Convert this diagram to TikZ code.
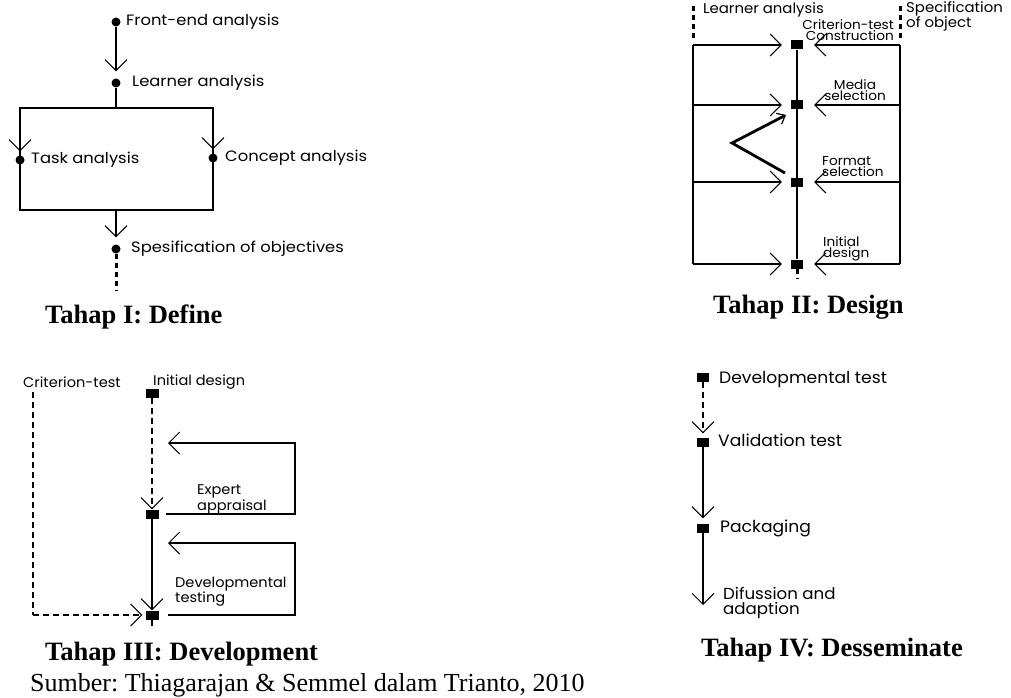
\documentclass[tikz,border=0pt]{standalone}
\usepackage{fontspec}
\setmainfont{Liberation Serif}
\newfontfamily\gothicA[FakeStretch=1.09]{Poppins}
\newfontfamily\gothicB[FakeStretch=1.05]{Poppins}
\newfontfamily\gothicC[FakeStretch=1.04]{Poppins}
\usetikzlibrary{arrows.meta}
\frenchspacing
\newcommand\fI{\gothicA\fontsize{15}{13}\selectfont}
\newcommand\fIIa{\gothicB\fontsize{14.2}{13}\selectfont}
\newcommand\fII{\gothicB\fontsize{13}{11}\selectfont}
\newcommand\fIII{\gothicC\fontsize{14}{13}\selectfont}
\newcommand\fIV{\gothicC\fontsize{16.5}{13.5}\selectfont}
\newcommand\fIVb{\gothicC\fontsize{16}{15.5}\selectfont}
\tikzset{
  main/.style={line width=2.8pt},
  dotline/.style={line width=3pt, dash pattern=on 5pt off 4pt},
  dashline/.style={line width=2.6pt, dash pattern=on 6pt off 4pt},
  vtip/.style={-{Straight Barb[length=11pt,width=22pt,line width=1pt]}},
  smalltip/.style={-{Straight Barb[length=7pt,width=12pt,line width=1.2pt]}},
  dotnode/.style={circle, fill, inner sep=0pt, minimum size=9pt},
  sqnode/.style={rectangle, fill, inner sep=0pt, minimum width=12pt, minimum height=9pt},
  lbl/.style={anchor=west, inner sep=0pt},
  ttl/.style={inner sep=0pt, font=\fontsize{26.5}{28}\selectfont\bfseries},
}
\begin{document}
\begin{tikzpicture}[x=1pt,y=-1pt]
\useasboundingbox[fill=white] (0,0) rectangle (1011,698);
% ---------------- Panel I ----------------
\node[dotnode] (fe) at (116,22) {};
\node[lbl,font=\fI] (fet) at (126,22) {Front-end analysis};
\node[dotnode] (la) at (116,83) {};
\node[lbl,font=\fI] (lat) at (132,83) {Learner analysis};
\coordinate (bt) at (116,108);
\coordinate (c1) at (20,108);
\coordinate (c2) at (213,108);
\coordinate (c3) at (213,210);
\coordinate (c4) at (20,210);
\node[dotnode] (ta) at (20,160) {};
\node[lbl,font=\fI] (tat) at (31,160) {Task analysis};
\node[dotnode] (ca) at (213,158) {};
\node[lbl,font=\fI] (cat) at (225,158) {Concept analysis};
\coordinate (bb) at (116,210);
\node[dotnode] (so) at (116,249) {};
\node[lbl,font=\fI] (sot) at (131,249) {Spesification of objectives};
\coordinate (se) at (116,290);
\draw[main,vtip,shorten >=7pt] (fe) -- (la);
\draw[main] (la) -- (bt);
\draw[main] (c1) -- (c2) -- (c3) -- (c4) -- cycle;
\draw[main,vtip,shorten >=4pt] (c1) -- (ta);
\draw[main,vtip,shorten >=4pt] (c2) -- (ca);
\draw[main,vtip,shorten >=7pt] (bb) -- (so);
\draw[dotline] (so) -- (se);
\node[ttl,anchor=west] (t1) at (45,317) {Tahap I: Define};
% ---------------- Panel II ----------------
\coordinate (Lt) at (693,6);
\coordinate (Ltb) at (693,40);
\coordinate (Rt) at (900,6);
\coordinate (Rtb) at (900,40);
\node[sqnode] (q1) at (797,45) {};
\node[sqnode] (q2) at (797,105) {};
\node[sqnode] (q3) at (797,182) {};
\node[sqnode] (q4) at (797,264) {};
\coordinate (qe) at (797,278);
\foreach \i/\y in {1/45,2/105,3/182,4/264}{
  \coordinate (L\i) at (693,\y);
  \coordinate (R\i) at (900,\y);
}
\draw[dotline] (Lt) -- (Ltb);
\draw[dotline] (Rt) -- (Rtb);
\draw[main] (L1) -- (L4);
\draw[main] (R1) -- (R4);
\draw[main] (q1) -- (q4);
\draw[dotline] (q4) -- (qe);
\foreach \i in {1,2,3,4}{
  \draw[main,vtip,shorten >=9pt] (L\i) -- (q\i);
  \draw[main,vtip,shorten >=11pt] (R\i) -- (q\i);
}
\coordinate (z1) at (785,173);
\coordinate (z2) at (732,143);
\coordinate (z3) at (786,115);
\draw[main,smalltip] (z1) -- (z2) -- (z3);
\node[lbl,font=\fIIa] (lat2) at (703,10) {Learner analysis};
\node[anchor=west,inner sep=0pt,align=left,font=\fIIa] (spec) at (906,16.5) {Specification\\of object};
\node[anchor=east,inner sep=0pt,align=right,font=\fII] (crit) at (894,30.5) {Criterion-test\\Construction};
\node[inner sep=0pt,align=center,font=\fII] (med) at (855,90.5) {Media\\selection};
\node[lbl,align=left,font=\fII] (fmt) at (822,166.5) {Format\\selection};
\node[lbl,align=left,font=\fII] (ini) at (823,249) {Initial\\design};
\node[ttl,anchor=west] (t2) at (713,307) {Tahap II: Design};
% ---------------- Panel III ----------------
\node[lbl,font=\fIII] (ct) at (23,382) {Criterion-test};
\node[lbl,font=\fIII] (idt) at (153,382) {Initial design};
\coordinate (k1) at (33,392);
\coordinate (k2) at (33,615);
\node[sqnode,minimum width=13pt] (p1) at (152,393) {};
\node[sqnode,minimum width=13pt] (p2) at (152,514) {};
\node[sqnode,minimum width=13pt] (p3) at (152,615) {};
\coordinate (pe) at (152,627);
\draw[dashline] (k1) -- (k2);
\draw[dashline,vtip,shorten >=3pt] (k2) -- (p3);
\draw[dashline,vtip] (p1) -- (p2);
\draw[main,vtip] (p2) -- (p3);
\draw[dashline] (p3) -- (pe);
\coordinate (s1) at (166,514);
\coordinate (e1) at (295,514);
\coordinate (e2) at (295,443);
\coordinate (e3) at (168,443);
\coordinate (s2) at (168,615);
\coordinate (f1) at (295,615);
\coordinate (f2) at (295,543);
\coordinate (f3) at (168,543);
\draw[main,vtip] (s1) -- (e1) -- (e2) -- (e3);
\draw[main,vtip] (s2) -- (f1) -- (f2) -- (f3);
\node[lbl,align=left,font=\fIII] (exp) at (197,499.5) {Expert\\appraisal};
\node[lbl,align=left,font=\fIII] (dvt) at (175,591.5) {Developmental\\testing};
\node[ttl,anchor=west] (t3) at (45,654) {Tahap III: Development};
\node[inner sep=0pt,anchor=west,font=\fontsize{26}{28}\selectfont] (src) at (30,685) {Sumber: Thiagarajan \& Semmel dalam Trianto, 2010};
% ---------------- Panel IV ----------------
\node[sqnode] (r1) at (703,377) {};
\node[sqnode] (r2) at (703,442) {};
\node[sqnode] (r3) at (703,528) {};
\coordinate (re) at (703,605);
\draw[dashline,vtip,shorten >=4pt] (r1) -- (r2);
\draw[main,vtip,shorten >=5pt] (r2) -- (r3);
\draw[main,vtip] (r3) -- (re);
\node[lbl,font=\fIV] (r1t) at (719,380) {Developmental test};
\node[lbl,font=\fIV] (r2t) at (718,440) {Validation test};
\node[lbl,font=\fIV] (r3t) at (720,528) {Packaging};
\node[lbl,align=left,font=\fIVb] (ret) at (723,603) {Difussion and\\adaption};
\node[ttl,anchor=east] (t4) at (963,650) {Tahap IV: Desseminate};
\end{tikzpicture}
\end{document}
